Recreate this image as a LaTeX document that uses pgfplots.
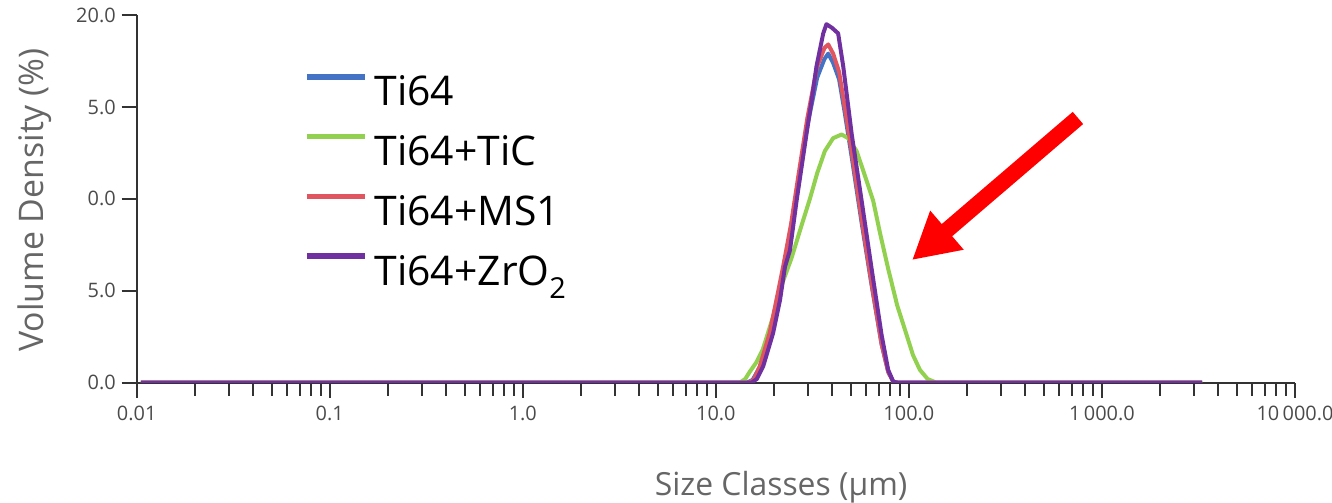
\documentclass[border=0pt]{standalone}
\usepackage{pgfplots}
\pgfplotsset{compat=1.18}
\usepackage{fontspec}
\setmainfont{Open Sans}
\usetikzlibrary{arrows.meta}
\definecolor{cblue}{HTML}{4472C4}
\definecolor{cgreen}{HTML}{92D050}
\definecolor{cred}{HTML}{E05560}
\definecolor{cpurple}{HTML}{7030A0}
\definecolor{axgray}{HTML}{333333}
\definecolor{labgray}{HTML}{4A4A4A}
\definecolor{titgray}{HTML}{666666}
\begin{document}
\begin{tikzpicture}
\path[use as bounding box] (0,0) rectangle (666bp,251.5bp);
\begin{axis}[
  anchor=south west, at={(68.35bp,60.15bp)},
  scale only axis, width=579.15bp, height=183.85bp,
  xmode=log, xmin=0.01, xmax=10000, ymin=0, ymax=20,
  axis x line*=bottom, axis y line*=left,
  axis line style={axgray, line width=1bp},
  tick align=outside,
  major tick length=7.5bp, minor tick length=6.5bp,
  tick style={axgray, line width=1bp},
  xtick={0.01,0.1,1,10,100,1000,10000},
  xticklabels={0.01,0.1,1.0,10.0,100.0,1\,000.0,10\,000.0},
  minor xtick={0.02,0.03,0.04,0.05,0.06,0.07,0.08,0.09,
               0.2,0.3,0.4,0.5,0.6,0.7,0.8,0.9,
               2,3,4,5,6,7,8,9,
               20,30,40,50,60,70,80,90,
               200,300,400,500,600,700,800,900,
               2000,3000,4000,5000,6000,7000,8000,9000},
  ytick={0,5,10,15,20},
  yticklabels={0.0,5.0,0.0,5.0,20.0},
  ticklabel style={font=\fontsize{10}{11}\selectfont, text=labgray},
  xticklabel style={yshift=-0.5bp},
  yticklabel style={xshift=0.5bp},
  /pgf/number format/assume math mode=true,
  xlabel={Size Classes (µm)},
  ylabel={Volume Density (\%)},
  xlabel style={at={(axis description cs:0.5563,-0.2837)}, anchor=center, font=\fontsize{16}{18}\selectfont, text=titgray},
  ylabel style={at={(axis description cs:-0.0878,0.4969)}, anchor=center, rotate=0, font=\fontsize{17}{19}\selectfont, text=titgray},
  legend style={at={(0.1445,0.8395)}, anchor=north west, draw=none, fill=none,
    inner sep=0pt, outer sep=0pt, row sep=9bp, column sep=3.5bp,
    font=\fontsize{20.5}{24}\selectfont,
    nodes={inner sep=0pt, text height=15bp, text depth=5bp}},
  legend cell align=left,
  legend image code/.code={\draw[#1, line width=2.8bp] (0bp,9.5bp) -- (29bp,9.5bp);},
  every axis plot/.append style={line width=2bp, line join=round},
]
\addplot[cblue] coordinates {
(0.0105,0) (14.5,0) (15.5,0.15) (16.9,0.85) (19.0,2.6) (20.6,4.3) (22.3,6.1)
(24.5,8.4) (26.8,11.0) (29.8,14.0) (33.5,16.6) (36.5,17.6) (38.2,17.9)
(40.5,17.4) (43.5,16.5) (46.5,14.7) (50.5,12.3) (56.9,8.7) (64.1,5.3)
(72.2,2.1) (78.1,0.6) (83,0.05) (88,0) (3300,0)};
\addlegendentry{Ti64}
\addplot[cgreen] coordinates {
(0.0105,0) (13.3,0) (14.2,0.2) (15.0,0.6) (16.2,1.1) (17.5,1.8) (19.8,3.6)
(21.9,5.3) (24.7,6.8) (27.5,8.4) (30.7,10.0) (33.5,11.4) (36.7,12.6)
(40.5,13.3) (44.8,13.5) (48.5,13.3) (53.6,12.6) (59,11.3) (65.3,9.9)
(71,8.1) (78.1,6.2) (87,4.2) (97.3,2.6) (105,1.5) (114,0.7) (125,0.2)
(139,0) (3300,0)};
\addlegendentry{Ti64+TiC}
\addplot[cred] coordinates {
(0.0105,0) (14.7,0) (15.7,0.15) (16.9,0.9) (19.0,2.7) (20.6,4.5) (22.3,6.3)
(24.5,8.6) (26.8,11.3) (29.8,14.4) (33.5,17.2) (36.5,18.2) (38.2,18.4)
(40.5,17.9) (43.5,16.9) (46.5,15.0) (50.5,12.6) (56.9,8.9) (64.1,5.4)
(72.2,2.1) (78.1,0.6) (83,0.05) (88,0) (3300,0)};
\addlegendentry{Ti64+MS1}
\addplot[cpurple] coordinates {
(0.0105,0) (15.3,0) (16.3,0.2) (17.6,0.9) (19.8,2.7) (21.5,4.5) (22.8,6.3)
(24.2,7.2) (26.2,9.9) (29.5,13.55) (31.5,15.5) (33.2,17.2) (36.0,19.0)
(37.4,19.5) (40.0,19.3) (43.0,19.0) (45.7,17.2) (50.5,13.55) (56.9,9.9)
(64.1,6.2) (72.2,2.6) (78.1,0.7) (83,0.05) (88,0) (3300,0)};
\addlegendentry{Ti64+ZrO\raisebox{-6.5bp}{\fontsize{14.5}{14.5}\selectfont 2}}
\draw[red, line width=8bp, -{Triangle[width=24bp,length=23bp]}]
  (axis cs:751,14.4) -- (axis cs:103.8,6.67);
\end{axis}
\end{tikzpicture}
\end{document}
